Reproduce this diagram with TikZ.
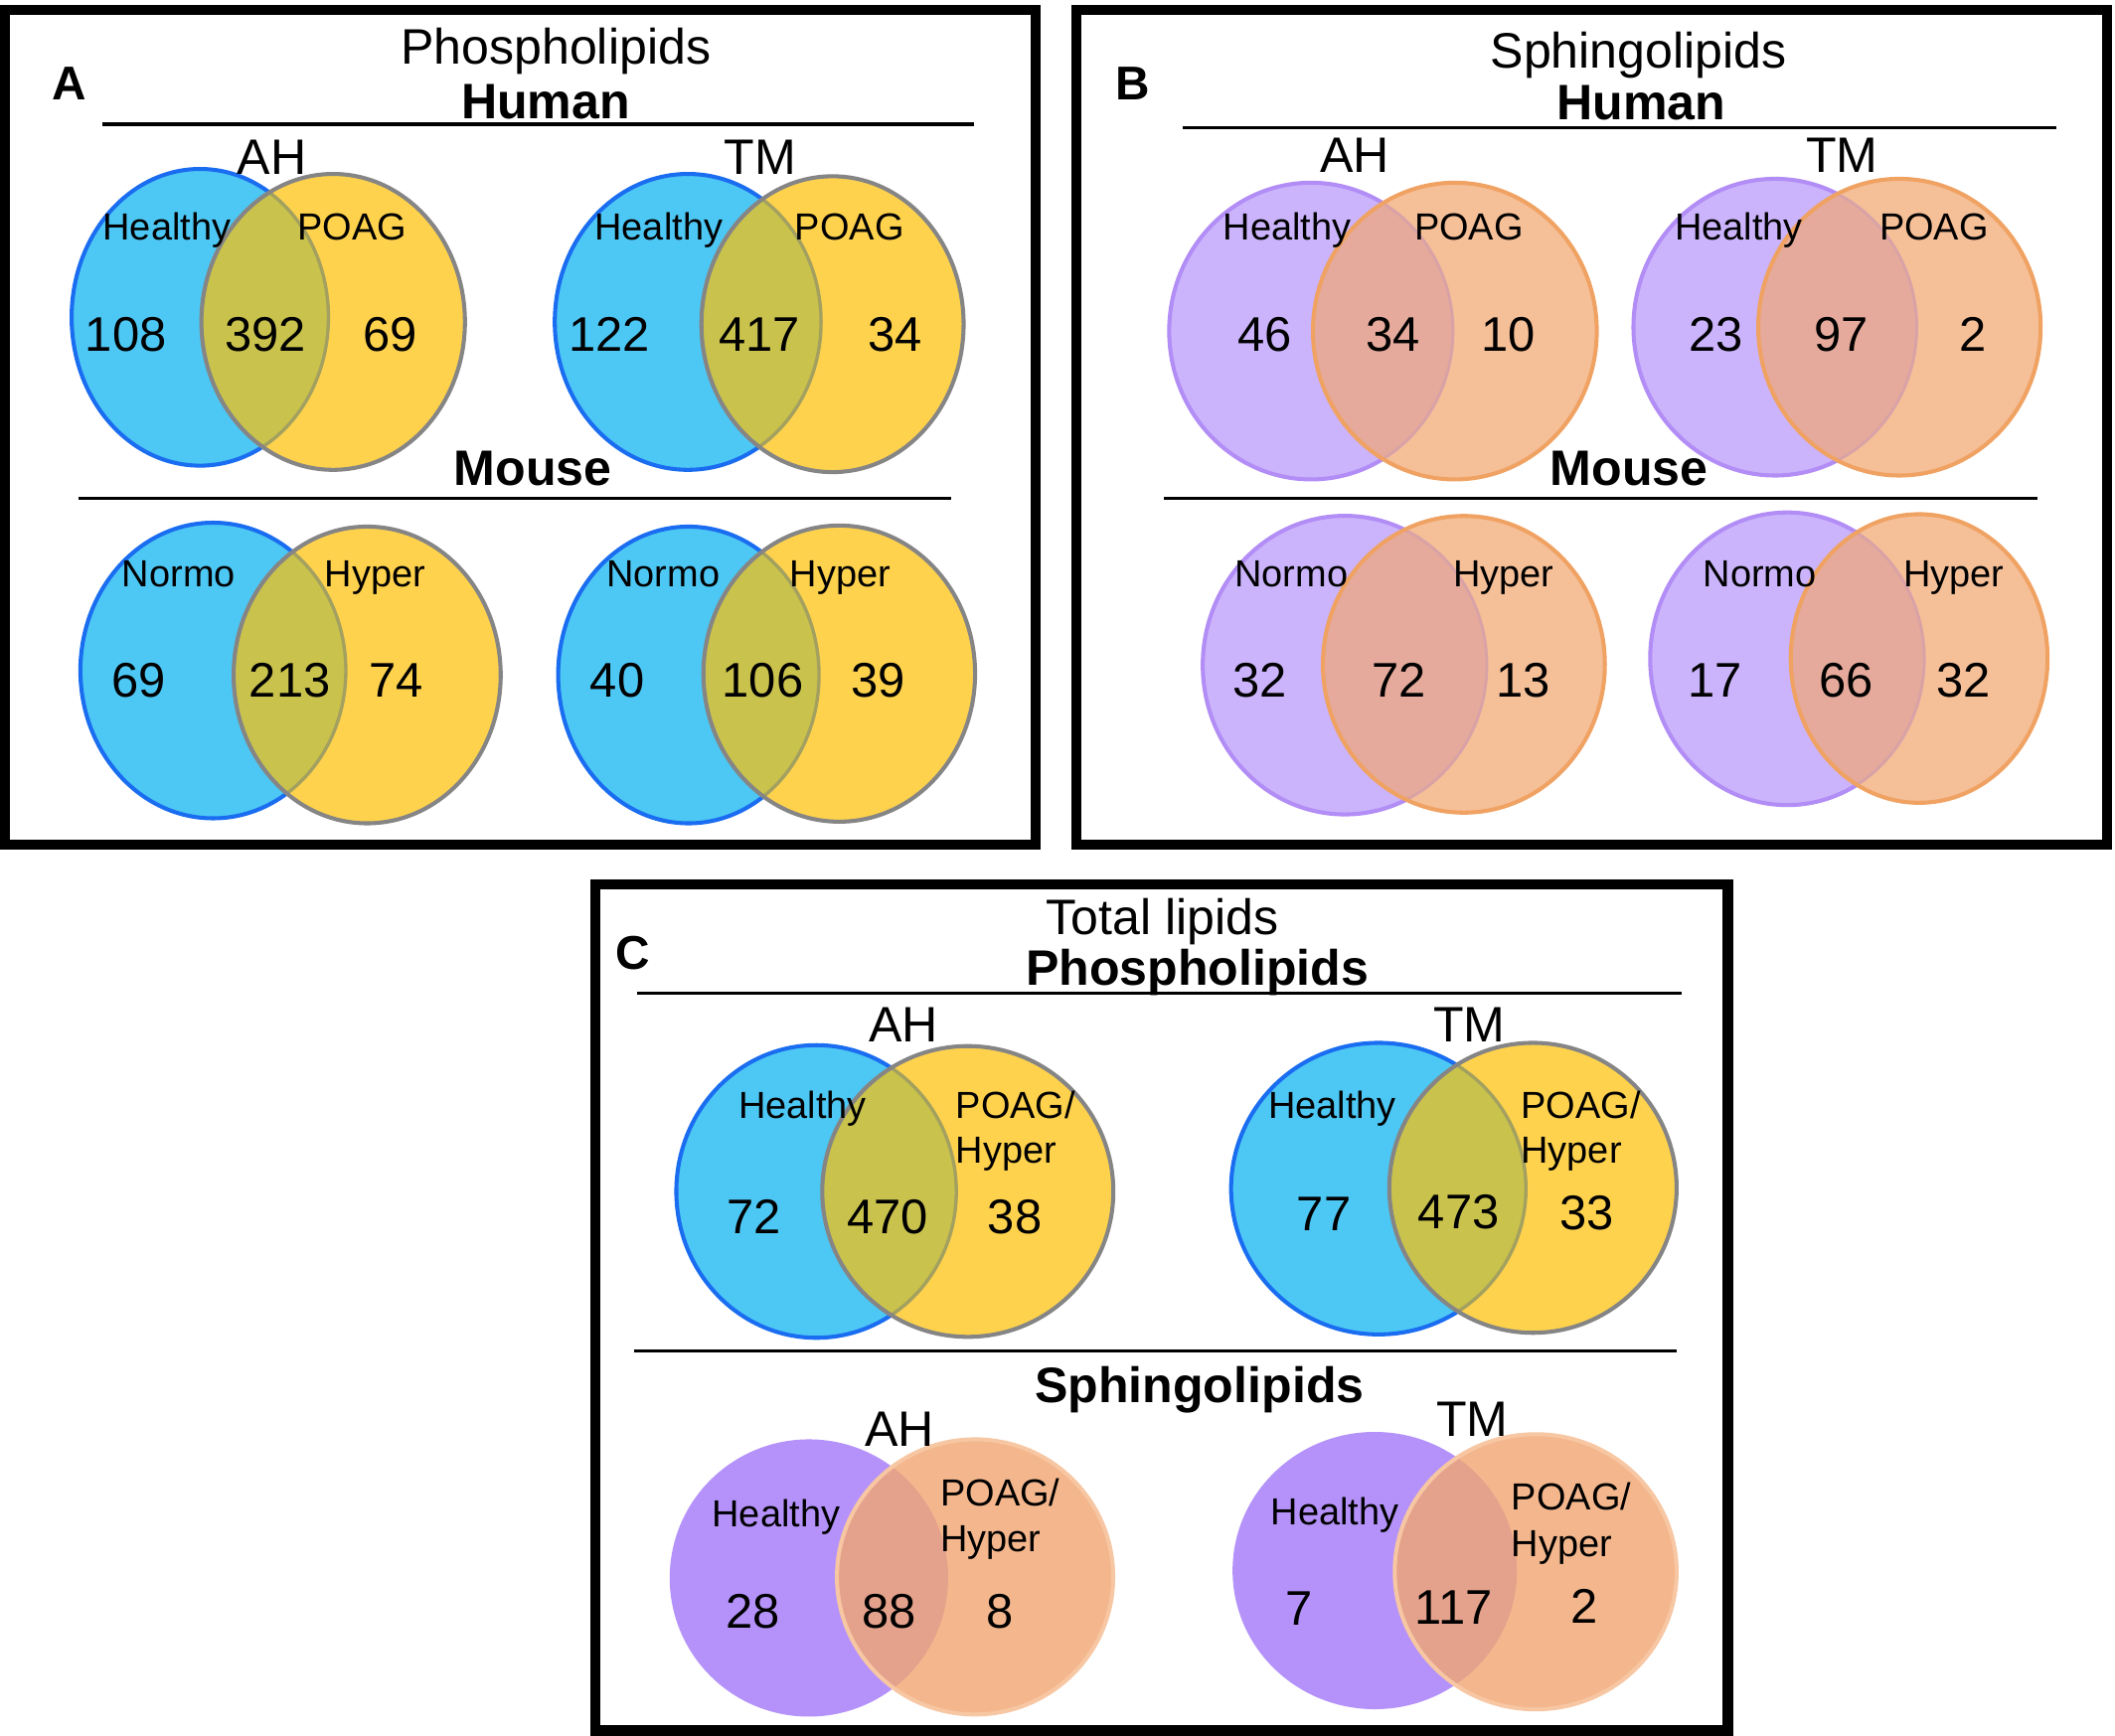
\documentclass[tikz,border=0pt]{standalone}
\usepackage{fontspec}
\setmainfont{Liberation Sans}
\definecolor{bluefill}{HTML}{4DC7F4}
\definecolor{bluestroke}{HTML}{1A6DF0}
\definecolor{yellowfill}{HTML}{FED24D}
\definecolor{graystroke}{HTML}{858585}
\definecolor{overA}{HTML}{C9C24C}
\definecolor{overAstroke}{HTML}{A3A060}
\definecolor{purpfill}{HTML}{CBB4FB}
\definecolor{purpstroke}{HTML}{B28DF6}
\definecolor{orfill}{HTML}{F5BF98}
\definecolor{orstroke}{HTML}{F0A263}
\definecolor{overB}{HTML}{E5AA9B}
\definecolor{overBstroke}{HTML}{D9A2A6}
\definecolor{purpC}{HTML}{B592FA}
\definecolor{orC}{HTML}{F4B78D}
\definecolor{orCstroke}{HTML}{F7C6A2}
\definecolor{overC}{HTML}{E4A18B}
\tikzset{
  big/.style={font=\fontsize{10.5pt}{12pt}\selectfont, anchor=base, inner sep=0pt},
  bigb/.style={font=\fontsize{10.5pt}{12pt}\selectfont\bfseries, anchor=base, inner sep=0pt},
  num/.style={font=\fontsize{10.25pt}{12pt}\selectfont, anchor=base, inner sep=0pt},
  lab/.style={font=\fontsize{7.95pt}{9pt}\selectfont, anchor=base, inner sep=0pt},
  labw/.style={lab, anchor=base west},
  letter/.style={font=\fontsize{10pt}{12pt}\selectfont\bfseries, anchor=base, inner sep=0pt},
  panel/.style={draw=black, line width=2.13pt},
  divider/.style={draw=black, line width=0.7pt},
  aLfill/.style={fill=bluefill}, aLstroke/.style={draw=bluestroke, line width=0.85pt},
  aRfill/.style={fill=yellowfill}, aRstroke/.style={draw=graystroke, line width=0.85pt},
  aOfill/.style={fill=overA}, aOstroke/.style={draw=overAstroke, line width=0.7pt},
  bLfill/.style={fill=purpfill}, bLstroke/.style={draw=purpstroke, line width=0.85pt},
  bRfill/.style={fill=orfill}, bRstroke/.style={draw=orstroke, line width=0.85pt},
  bOfill/.style={fill=overB}, bOstroke/.style={draw=overBstroke, line width=0.6pt},
  cLfill/.style={fill=purpC}, cLstroke/.style={draw=none},
  cRfill/.style={fill=orC}, cRstroke/.style={draw=orCstroke, line width=0.85pt},
  cOfill/.style={fill=overC}, cOstroke/.style={draw=none},
}
\newcommand{\venpair}[9]{%
  \path[#1Lfill] (#2,#3) ellipse [x radius=#4, y radius=#5];
  \path[#1Lstroke] (#2,#3) ellipse [x radius=#4, y radius=#5];
  \path[#1Rfill] (#6,#7) ellipse [x radius=#8, y radius=#9];
  \begin{scope}
    \clip (#6,#7) ellipse [x radius=#8, y radius=#9];
    \path[#1Ofill] (#2,#3) ellipse [x radius=#4, y radius=#5];
    \path[#1Ostroke] (#2,#3) ellipse [x radius=#4, y radius=#5];
  \end{scope}
  \path[#1Rstroke] (#6,#7) ellipse [x radius=#8, y radius=#9];
}
\begin{document}
\begin{tikzpicture}[x=0.01cm, y=-0.01cm]
\useasboundingbox (0,0) rectangle (1568,1286.6);
\fill[white] (0,0) rectangle (1568,1286.6);

% ---------- Panel A ----------
\draw[panel] (3.8,7.4) rectangle (768,626.4);
\venpair{a}{148.3}{235.3}{95.2}{110}{247}{238.7}{97.7}{109.7}
\venpair{a}{510}{238.7}{98.7}{109.7}{617.2}{240.4}{97.2}{109.7}
\venpair{a}{158}{497.2}{98.4}{109.6}{272.2}{500.5}{99}{110}
\venpair{a}{510.5}{500.5}{96.7}{110}{622.2}{499.5}{100.7}{109.8}
\coordinate (a1l) at (75.6,92.1); \coordinate (a1r) at (722,92.1);
\coordinate (a2l) at (58,369.7); \coordinate (a2r) at (705.4,369.7);
\draw[divider] (a1l) -- (a1r);
\draw[divider] (a2l) -- (a2r);
\node[letter] (lA) at (51.3,73.7) {A};
\node[big] (tA) at (412,47.4) {Phospholipids};
\node[bigb] (hA) at (404.5,88) {Human};
\node[big] (ahA) at (201.5,129) {AH};
\node[big] (tmA) at (563.4,129) {TM};
\node[lab] (a1) at (123.7,178) {Healthy};
\node[lab] (a2) at (261,178) {POAG};
\node[lab] (a3) at (488.4,178) {Healthy};
\node[lab] (a4) at (629.8,178) {POAG};
\node[num] (an1) at (93.3,260.4) {108};
\node[num] (an2) at (197,260.4) {392};
\node[num] (an3) at (289,260.4) {69};
\node[num] (an4) at (451.6,260.4) {122};
\node[num] (an5) at (563,260.4) {417};
\node[num] (an6) at (663.5,260.4) {34};
\node[bigb] (mA) at (395,360) {Mouse};
\node[lab] (a5) at (132.5,435) {Normo};
\node[lab] (a6) at (278,435) {Hyper};
\node[lab] (a7) at (491.7,435) {Normo};
\node[lab] (a8) at (623,435) {Hyper};
\node[num] (an7) at (103,517) {69};
\node[num] (an8) at (215,517) {213};
\node[num] (an9) at (293.5,517) {74};
\node[num] (an10) at (457.7,517) {40};
\node[num] (an11) at (565.6,517) {106};
\node[num] (an12) at (650.8,517) {39};

% ---------- Panel B ----------
\draw[panel] (797.7,7.4) rectangle (1562,626.4);
\venpair{b}{972}{245.5}{105.2}{110}{1078.6}{245.5}{105.2}{110}
\venpair{b}{1316}{242.6}{105}{110}{1408.2}{242.6}{104.7}{110}
\venpair{b}{997}{493.2}{105.3}{110.7}{1085.3}{492.6}{104.5}{110}
\venpair{b}{1325}{488.5}{101.6}{108.5}{1422.8}{488.3}{95.2}{107}
\coordinate (b1l) at (876.7,94.6); \coordinate (b1r) at (1524.5,94.6);
\coordinate (b2l) at (863,369.7); \coordinate (b2r) at (1510.5,369.7);
\draw[divider] (b1l) -- (b1r);
\draw[divider] (b2l) -- (b2r);
\node[letter] (lB) at (840,73.7) {B};
\node[big] (tB) at (1214.8,50.4) {Sphingolipids};
\node[bigb] (hB) at (1216.8,88.5) {Human};
\node[big] (ahB) at (1004.5,128) {AH};
\node[big] (tmB) at (1365.6,128) {TM};
\node[lab] (b1) at (954.3,178) {Healthy};
\node[lab] (b2) at (1089,178) {POAG};
\node[lab] (b3) at (1289,178) {Healthy};
\node[lab] (b4) at (1433.8,178) {POAG};
\node[num] (bn1) at (938,260.4) {46};
\node[num] (bn2) at (1032.6,260.4) {34};
\node[num] (bn3) at (1118,260.4) {10};
\node[num] (bn4) at (1272.5,260.4) {23};
\node[num] (bn5) at (1365,260.4) {97};
\node[num] (bn6) at (1462.8,260.4) {2};
\node[bigb] (mB) at (1207.9,360) {Mouse};
\node[lab] (b5) at (957.4,435) {Normo};
\node[lab] (b6) at (1114.7,435) {Hyper};
\node[lab] (b7) at (1304.7,435) {Normo};
\node[lab] (b8) at (1448.6,435) {Hyper};
\node[num] (bn7) at (934,517) {32};
\node[num] (bn8) at (1037,517) {72};
\node[num] (bn9) at (1129,517) {13};
\node[num] (bn10) at (1271.7,517) {17};
\node[num] (bn11) at (1369,517) {66};
\node[num] (bn12) at (1456,517) {32};

% ---------- Panel C ----------
\draw[panel] (441.6,656) rectangle (1281,1283.2);
\venpair{a}{605.2}{883.5}{103.8}{108.5}{717.5}{883.5}{107.9}{107.8}
\venpair{a}{1022}{881.4}{109.3}{108.1}{1136.5}{880.8}{106.5}{107.5}
\venpair{c}{599.7}{1170.1}{103.2}{102.8}{722.9}{1169.3}{102.4}{102}
\venpair{c}{1019.2}{1164.6}{105.4}{102.8}{1138.5}{1165.5}{104.5}{102}
\coordinate (c1l) at (472,736.5); \coordinate (c1r) at (1247,736.5);
\coordinate (c2l) at (470.3,1001.6); \coordinate (c2r) at (1243,1001.6);
\draw[divider] (c1l) -- (c1r);
\draw[divider] (c2l) -- (c2r);
\node[letter] (lC) at (468.9,718.5) {C};
\node[big] (tC) at (862,692.7) {Total lipids};
\node[bigb] (pC) at (887.6,730.3) {Phospholipids};
\node[big] (ahC) at (669.7,772.6) {AH};
\node[big] (tmC) at (1089.4,772.6) {TM};
\node[lab] (c1) at (595,829) {Healthy};
\node[labw] (c2) at (708,829) {POAG/};
\node[labw] (c3) at (708,862.3) {Hyper};
\node[lab] (c4) at (987.8,829) {Healthy};
\node[labw] (c5) at (1127,829) {POAG/};
\node[labw] (c6) at (1127,862.3) {Hyper};
\node[num] (cn1) at (559,915.1) {72};
\node[num] (cn2) at (657.9,915.1) {470};
\node[num] (cn3) at (752.4,915.1) {38};
\node[num] (cn4) at (981.5,912.6) {77};
\node[num] (cn5) at (1081.5,911.4) {473};
\node[num] (cn6) at (1176.5,912) {33};
\node[bigb] (sC) at (889.2,1040.2) {Sphingolipids};
\node[big] (ahC2) at (666.9,1072.2) {AH};
\node[big] (tmC2) at (1091.6,1064.8) {TM};
\node[lab] (c7) at (575.4,1132.4) {Healthy};
\node[labw] (c8) at (696.5,1116.4) {POAG/};
\node[labw] (c9) at (696.5,1150.8) {Hyper};
\node[lab] (c10) at (989.7,1131) {Healthy};
\node[labw] (c11) at (1120,1120) {POAG/};
\node[labw] (c12) at (1120,1154.5) {Hyper};
\node[num] (cn7) at (558.5,1207.3) {28};
\node[num] (cn8) at (659.3,1207.3) {88};
\node[num] (cn9) at (741.5,1207.3) {8};
\node[num] (cn10) at (963.2,1204.8) {7};
\node[num] (cn11) at (1077.9,1204.5) {117};
\node[num] (cn12) at (1174.9,1203.6) {2};
\end{tikzpicture}
\end{document}
